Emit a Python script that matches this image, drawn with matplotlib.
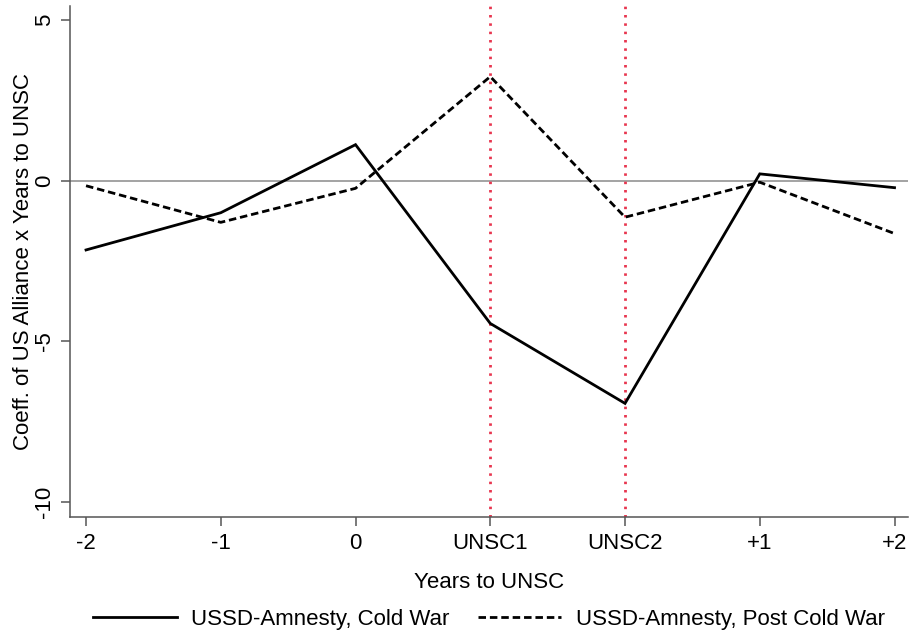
import matplotlib
matplotlib.use("Agg")
import matplotlib.pyplot as plt

plt.rcParams['font.family'] = ['Liberation Sans', 'DejaVu Sans']

categories = ["-2", "-1", "0", "UNSC1", "UNSC2", "+1", "+2"]
cold_war = [-2.16, -1.0, 1.12, -4.45, -6.94, 0.21, -0.22]
post_cold_war = [-0.16, -1.3, -0.24, 3.24, -1.14, -0.05, -1.65]
y_ticks = [5, 0, -5, -10]
unsc_marks = ["UNSC1", "UNSC2"]

fig = plt.figure(figsize=(9.1, 6.38), dpi=100)
ax = fig.add_axes([70/910, (638-516.7)/638, (908-70)/910, (516.7-6)/638])

x = list(range(len(categories)))
ax.axhline(0, color='#8a8a8a', lw=1.1, zorder=1)
for m in unsc_marks:
    ax.axvline(categories.index(m), color='#e8364f', lw=2.0,
               linestyle=(0, (0.9, 2.1)), zorder=2)
l1, = ax.plot(x, cold_war, color='black', lw=2.0, zorder=3,
              solid_joinstyle='miter', label='USSD-Amnesty, Cold War')
l2, = ax.plot(x, post_cold_war, color='black', lw=2.0, zorder=3,
              linestyle=(0, (2.7, 1.4)), label='USSD-Amnesty, Post Cold War')

ax.set_xlim(-0.119, 6.10)
ax.set_ylim(-10.47, 5.44)
ax.set_xticks(x)
ax.set_xticklabels(categories)
ax.set_yticks(y_ticks)
ax.set_yticklabels([str(v) for v in y_ticks])

for s in ['top', 'right']:
    ax.spines[s].set_visible(False)
for s in ['left', 'bottom']:
    ax.spines[s].set_color('#555555')
    ax.spines[s].set_linewidth(1.1)

ax.tick_params(axis='both', colors='#555555', labelcolor='black',
               labelsize=16, length=6.7, width=1.1)
ax.tick_params(axis='x', pad=5)
ax.tick_params(axis='y', labelrotation=90, pad=4)
for lab in ax.get_yticklabels():
    lab.set_va('center')

ax.set_xlabel('Years to UNSC', fontsize=16)
ax.xaxis.set_label_coords(0.5, -0.108)
ax.set_ylabel('Coeff. of US Alliance x Years to UNSC', fontsize=16)
ax.yaxis.set_label_coords(-0.043, 0.5)

fig.legend(handles=[l1, l2], loc='center',
           bbox_to_anchor=(489/910, 1 - 619/638), ncol=2, frameon=False,
           fontsize=16, handlelength=3.77, handletextpad=0.67,
           columnspacing=1.25)

fig.savefig('out.png', dpi=100)
